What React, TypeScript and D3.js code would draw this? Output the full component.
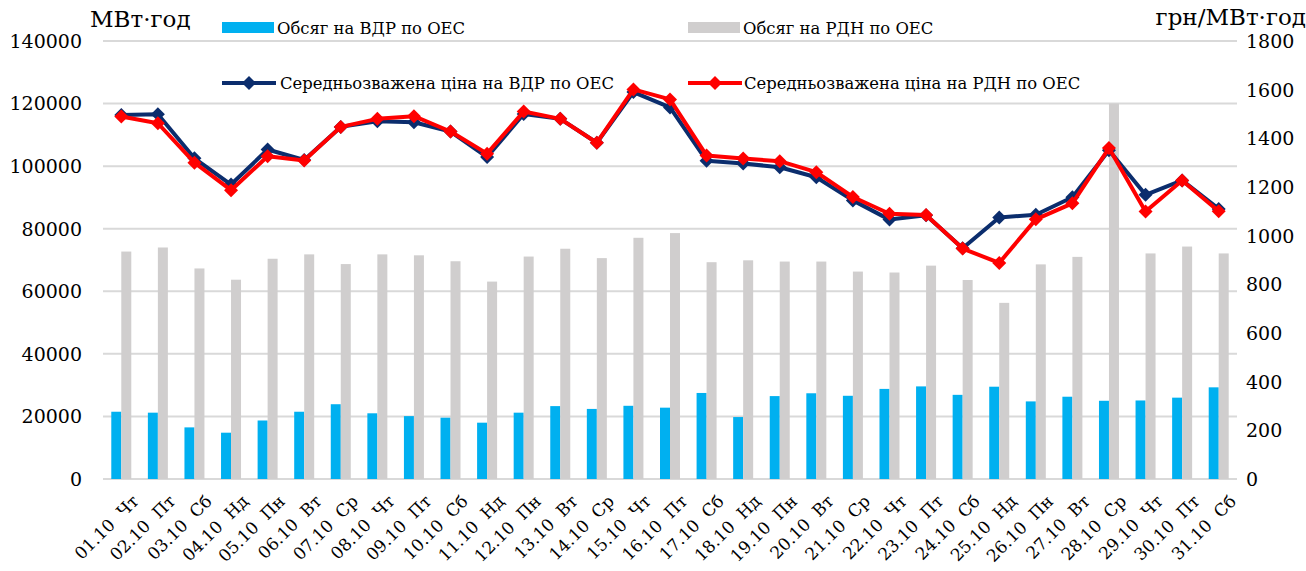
import React from "react";
import * as d3 from "d3";

const dates = ["01.10","02.10","03.10","04.10","05.10","06.10","07.10","08.10","09.10","10.10","11.10","12.10","13.10","14.10","15.10","16.10","17.10","18.10","19.10","20.10","21.10","22.10","23.10","24.10","25.10","26.10","27.10","28.10","29.10","30.10","31.10"];
const weekdays = ["Чт","Пт","Сб","Нд","Пн","Вт","Ср","Чт","Пт","Сб","Нд","Пн","Вт","Ср","Чт","Пт","Сб","Нд","Пн","Вт","Ср","Чт","Пт","Сб","Нд","Пн","Вт","Ср","Чт","Пт","Сб"];
const categories = dates.map((d, i) => `${d}\u00a0\u00a0${weekdays[i]}`);

const volumeVDR = [21500,21200,16500,14800,18700,21500,23900,21000,20100,19600,18000,21200,23300,22400,23400,22800,27500,19800,26500,27400,26600,28800,29600,26900,29500,24800,26300,25000,25100,26000,29300];
const volumeRDN = [72700,74000,67300,63700,70400,71800,68700,71800,71500,69600,63100,71100,73600,70600,77100,78600,69300,69900,69500,69500,66300,66000,68200,63600,56300,68600,71000,120000,72100,74300,72100];
const priceVDR = [1496,1499,1318,1210,1354,1311,1447,1470,1466,1428,1323,1500,1480,1382,1590,1527,1308,1297,1281,1240,1145,1066,1084,948,1075,1086,1158,1351,1168,1227,1110];
const priceRDN = [1490,1462,1300,1187,1326,1309,1447,1480,1491,1428,1337,1510,1480,1382,1601,1560,1329,1317,1306,1261,1159,1090,1085,947,888,1067,1133,1360,1099,1227,1100];

const leftTicks = [0,20000,40000,60000,80000,100000,120000,140000];
const rightTicks = [0,200,400,600,800,1000,1200,1400,1600,1800];

const W = 1306, H = 571;
const plot = { left: 103, right: 1237, top: 41, bottom: 479 };
const FONT = "'DejaVu Serif', 'Liberation Serif', serif";

export default function App() {
  const x = d3.scaleBand<string>().domain(categories).range([plot.left, plot.right]);
  const yL = d3.scaleLinear().domain([0, 140000]).range([plot.bottom, plot.top]);
  const yR = d3.scaleLinear().domain([0, 1800]).range([plot.bottom, plot.top]);
  const cx = (c: string) => (x(c) as number) + x.bandwidth() / 2;
  const barW = 10;

  const lineGen = (vals: number[]) =>
    d3.line<number>().x((_, i) => cx(categories[i])).y((v) => yR(v))(vals) as string;
  const diamond = d3.symbol().type(d3.symbolSquare).size(98)() as string;

  const navy = "#0b2d6d";
  const red = "#ff0000";

  return (
    <svg width={W} height={H} style={{ position: "absolute", left: 0, top: 0, background: "#fff" }} fontFamily={FONT}>
      <defs>
        <clipPath id="clip">
          <rect x={plot.left} y={plot.top} width={plot.right - plot.left} height={plot.bottom - plot.top} />
        </clipPath>
      </defs>
      {leftTicks.map((t) => (
        <line key={"g" + t} x1={plot.left} x2={plot.right} y1={yL(t)} y2={yL(t)} stroke="#d9d9d9" strokeWidth={2} />
      ))}
      <g clipPath="url(#clip)">
        {categories.map((c, i) => (
          <g key={"b" + c}>
            <rect x={cx(c) - barW} y={yL(volumeVDR[i])} width={barW} height={yL(0) - yL(volumeVDR[i])} fill="#00b0f0" />
            <rect x={cx(c)} y={yL(volumeRDN[i])} width={barW} height={yL(0) - yL(volumeRDN[i])} fill="#d0cece" />
          </g>
        ))}
      </g>
      <path d={lineGen(priceVDR)} fill="none" stroke={navy} strokeWidth={4} strokeLinejoin="round" />
      {priceVDR.map((v, i) => (
        <path key={"mv" + i} d={diamond} transform={`translate(${cx(categories[i])},${yR(v)}) rotate(45)`} fill={navy} />
      ))}
      <path d={lineGen(priceRDN)} fill="none" stroke={red} strokeWidth={4} strokeLinejoin="round" />
      {priceRDN.map((v, i) => (
        <path key={"mr" + i} d={diamond} transform={`translate(${cx(categories[i])},${yR(v)}) rotate(45)`} fill={red} />
      ))}
      {leftTicks.map((t) => (
        <text key={"l" + t} x={82} y={yL(t)} dy="0.36em" textAnchor="end" fontSize={19} fill="#000">{t}</text>
      ))}
      {rightTicks.map((t) => (
        <text key={"r" + t} x={1246} y={yR(t)} dy="0.36em" textAnchor="start" fontSize={19} fill="#000">{t}</text>
      ))}
      <text x={90} y={27} fontSize={23} fill="#000">МВт·год</text>
      <text x={1306} y={25} fontSize={23} textAnchor="end" fill="#000">грн/МВт·год</text>
      {categories.map((c) => (
        <text key={"x" + c} transform={`translate(${cx(c) + 10},${494}) rotate(-45)`} textAnchor="end" dy="0.7em" fontSize={17} fill="#000">{c}</text>
      ))}
      <rect x={222} y={22} width={52} height={11} fill="#00b0f0" />
      <text x={277} y={34} fontSize={16.4} fill="#000">Обсяг на ВДР по ОЕС</text>
      <rect x={688} y={22} width={52} height={11} fill="#d0cece" />
      <text x={743} y={34} fontSize={16.4} fill="#000">Обсяг на РДН по ОЕС</text>
      <line x1={222} x2={276} y1={83} y2={83} stroke={navy} strokeWidth={4} />
      <path d={diamond} transform={`translate(249,83) rotate(45)`} fill={navy} />
      <text x={280} y={89} fontSize={16.4} fill="#000">Середньозважена ціна на ВДР по ОЕС</text>
      <line x1={688} x2={742} y1={83} y2={83} stroke={red} strokeWidth={4} />
      <path d={diamond} transform={`translate(715,83) rotate(45)`} fill={red} />
      <text x={744} y={89} fontSize={16.4} fill="#000">Середньозважена ціна на РДН по ОЕС</text>
    </svg>
  );
}
